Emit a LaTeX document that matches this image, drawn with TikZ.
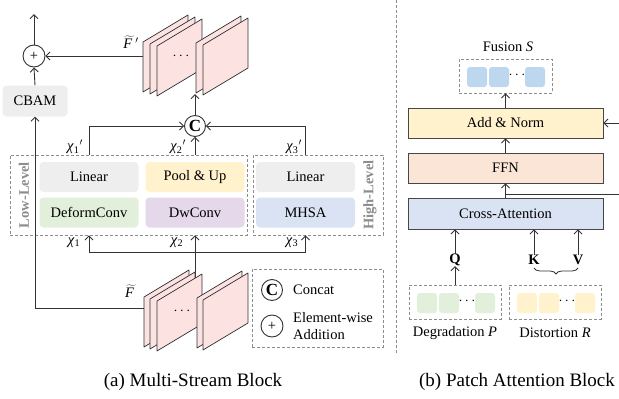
\documentclass[tikz,border=0pt]{standalone}
\usepackage{fontspec}
\setmainfont{Liberation Serif}
\usetikzlibrary{arrows.meta,decorations.pathreplacing,calc}

\definecolor{cgray}{HTML}{EEEEEE}
\definecolor{cgreen}{HTML}{E2EFDA}
\definecolor{cyellow}{HTML}{FFF2CC}
\definecolor{cpurple}{HTML}{E4D8EA}
\definecolor{cblue}{HTML}{DAE3F3}
\definecolor{cpeach}{HTML}{FBE5D6}
\definecolor{cpink}{HTML}{FDE2E2}
\definecolor{csky}{HTML}{BDD7EE}
\definecolor{cline}{HTML}{333333}
\definecolor{cdash}{HTML}{8C8C8C}

\tikzset{
  every node/.style={font=\fontsize{14.5}{17}\selectfont, inner sep=0pt},
  arr/.style={-{Straight Barb[length=4pt,width=8pt]}, line width=0.9pt, draw=cline},
  link/.style={line width=0.9pt, draw=cline},
  softbox/.style={rounded corners=4pt, minimum width=99pt, minimum height=30pt},
  dashbox/.style={draw=cdash, dash pattern=on 3pt off 2pt, line width=0.8pt},
  layerbox/.style={draw=cline!90, line width=0.9pt, minimum width=195pt},
  token/.style={rounded corners=3pt, minimum width=20pt, minimum height=20pt},
  opcircle/.style={circle, draw=cline, line width=0.9pt, minimum size=22pt},
  fmap/.style={fill=cpink, draw=cline, line width=0.7pt, line join=round},
  levellabel/.style={rotate=90, text=cdash, font=\fontsize{14.5}{17}\selectfont\bfseries},
  caption/.style={font=\fontsize{19}{22}\selectfont},
}

% one slanted feature map, top-left corner at (#1,#2)
\newcommand\featmap[2]{\draw[fmap] (#1,#2) -- ++(45,-27) -- ++(0,50) -- ++(-45,27) -- cycle;}
% stream feature labels: italic chi with subscript
\newcommand\chiv[1]{\textit{χ}\textsubscript{#1}}
% feature map symbol: F with a wide tilde
\newcommand\fmapsym{$\widetilde{\mbox{\textit{F}\kern3pt}}$}

\begin{document}
\begin{tikzpicture}[x=1pt, y=-1pt]
\useasboundingbox (0,0) rectangle (619,399);

% ---------------- (a) Multi-Stream Block ----------------
\node[opcircle] (plus) at (34,56) {+};
\coordinate (out) at (34,14);
\node[softbox, fill=cgray, minimum width=65pt, minimum height=31pt] (cbam) at (35,101) {CBAM};

\node[opcircle, minimum size=21pt] (cc) at (195,126) {\fontsize{17}{17}\selectfont\bfseries C};

% stream boxes
\node[dashbox, minimum width=237pt, minimum height=80pt] (low) at (128.5,195) {};
\node[dashbox, minimum width=130pt, minimum height=80pt] (high) at (318,195) {};
\node[softbox, fill=cgray]   (lin1)  at (89,177)    {Linear};
\node[softbox, fill=cgreen]  (dconv) at (89,212.5)  {DeformConv};
\node[softbox, fill=cyellow] (pool)  at (195,177)   {Pool \& Up};
\node[softbox, fill=cpurple] (dw)    at (195,212.5) {DwConv};
\node[softbox, fill=cgray]   (lin2)  at (305.5,177) {Linear};
\node[softbox, fill=cblue]   (mhsa)  at (305.5,212.5) {MHSA};
\node[levellabel] (lowlab)  at (24,195)  {Low-Level};
\node[levellabel] (highlab) at (370,195) {High-Level};

% stream outputs into concat
\draw[arr] (lin1 |- low.north) |- (cc.west);
\draw[arr] (lin2 |- high.north) |- (cc.east);
\draw[arr] (pool |- low.north) -- (cc.south);
\node (o1) at (75,147)  {\chiv{1}$'$};
\node (o2) at (178,147) {\chiv{2}$'$};
\node (o3) at (294,147) {\chiv{3}$'$};

% stream inputs
\coordinate (bus) at (195,252);
\coordinate (fin) at (195,295);
\draw[link] (lin1 |- bus) -- (lin2 |- bus);
\draw[link] (fin) -- (bus);
\draw[arr] (lin1 |- bus) -- (lin1 |- low.south);
\draw[arr] (bus) -- (pool |- low.south);
\draw[arr] (lin2 |- bus) -- (lin2 |- high.south);
\node (i1) at (74,243)  {\chiv{1}};
\node (i2) at (177,243) {\chiv{2}};
\node (i3) at (292,243) {\chiv{3}};

% skip path through CBAM and output
\coordinate (fbl) at (144,308);
\draw[arr] (fbl) -| (cbam.south);
\draw[arr] (cbam.north) -- (plus.south);
\draw[arr] (plus.north) -- (out);

% concat result into the output feature maps
\coordinate (ftin) at (195,94);
\draw[arr] (cc.north) -- (ftin);

% output feature maps
\featmap{143}{42}
\featmap{150}{44}
\featmap{157}{46}
\featmap{196}{43}
\featmap{203}{45}
\node (dtop) at (181,56) {$\cdots$};
\node (ftl) at (131,42) {\fmapsym$'$};
\coordinate (ftl1) at (143,56);
\draw[arr] (ftl1) -- (plus.east);

% input feature maps
\featmap{144}{297}
\featmap{150}{299}
\featmap{157}{301}
\featmap{197}{298}
\featmap{203}{300}
\node (dbot) at (182,311) {$\cdots$};
\node (fbl2) at (131,291) {\fmapsym};

% legend
\node[dashbox, minimum width=131pt, minimum height=78pt] (legend) at (317.5,308) {};
\node[opcircle, minimum size=21pt] (lc) at (272,290) {\fontsize{17}{17}\selectfont\bfseries C};
\node[anchor=west] (lct) at (293,290) {Concat};
\node[opcircle] (lp) at (272,326) {+};
\node[anchor=west, align=left] (lpt) at (293,326) {Element-wise\\Addition};

\node[caption] (capa) at (193,382) {(a) Multi-Stream Block};

% separator
\coordinate (sepT) at (396,0);
\coordinate (sepB) at (396,353);
\draw[dashbox] (sepT) -- (sepB);

% ---------------- (b) Patch Attention Block ----------------
\node (fuslab) at (508,47) {Fusion \textit{S}};
\node[dashbox, minimum width=93pt, minimum height=34pt] (fus) at (505.5,76) {};
\node[token, fill=csky] (s1) at (477,77) {};
\node[token, fill=csky] (s2) at (499,77) {};
\node[token, fill=csky] (s3) at (535,77) {};
\node (sd) at (517,75) {$\cdots$};

\node[layerbox, fill=cyellow, minimum height=30pt] (addn) at (505.5,123) {Add \& Norm};
\node[layerbox, fill=cpeach, minimum height=30pt] (ffn) at (505.5,168) {FFN};
\node[layerbox, fill=cblue, minimum height=31pt] (catt) at (505.5,213.5) {Cross-Attention};

\draw[arr] (addn.north) -- (fus.south);
\draw[arr] (ffn.north) -- (addn.south);
\draw[arr] (catt.north) -- (ffn.south);
\coordinate (resA) at (619,123);
\coordinate (resB) at (619,194);
\draw[arr] (resA) -- (addn.east);
\draw[link] (catt.north |- resB) -- (resB);

\node (q) at (455,260) {\textbf{Q}};
\node (k) at (534,260) {\textbf{K}};
\node (v) at (578,260) {\textbf{V}};
\draw[arr] (q.north) -- (q |- catt.south);
\draw[arr] (k.north) -- (k |- catt.south);
\draw[arr] (v.north) -- (v |- catt.south);
\coordinate (brl) at (534,268);
\coordinate (brr) at (578,268);
\draw[line width=0.8pt, draw=cline, decorate, decoration={brace, mirror, amplitude=6pt}] (brl) -- (brr);

\node[dashbox, minimum width=92pt, minimum height=34pt] (deg) at (455,302) {};
\node[token, fill=cgreen] (p1) at (427,303) {};
\node[token, fill=cgreen] (p2) at (449,303) {};
\node[token, fill=cgreen] (p3) at (485,303) {};
\node (pd) at (467,301) {$\cdots$};
\node[dashbox, minimum width=92pt, minimum height=34pt] (dis) at (555,302) {};
\node[token, fill=cyellow] (r1) at (527,303) {};
\node[token, fill=cyellow] (r2) at (549,303) {};
\node[token, fill=cyellow] (r3) at (585,303) {};
\node (rd) at (567,301) {$\cdots$};
\draw[arr] (deg.north) -- (q.south);

\node (deglab) at (455,333) {Degradation \textit{P}};
\node (dislab) at (555,333) {Distortion \textit{R}};

\node[caption] (capb) at (517,382) {(b) Patch Attention Block};
\end{tikzpicture}
\end{document}
